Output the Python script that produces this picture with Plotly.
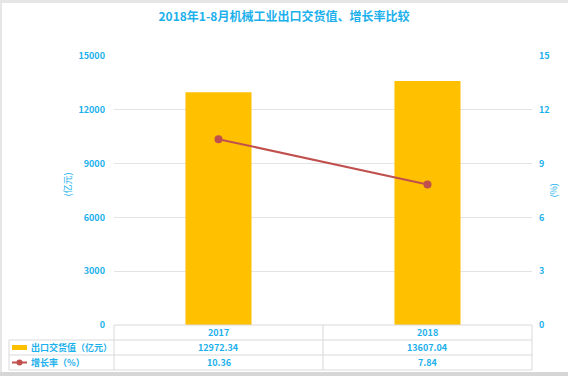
import plotly.graph_objects as go

categories = ["2017", "2018"]
export_values = [12972.34, 13607.04]
growth_rates = [10.36, 7.84]
series_names = ["出口交货值（亿元）", "增长率（%）"]
title_text = "2018年1-8月机械工业出口交货值、增长率比较"
y1_ticks = [0, 3000, 6000, 9000, 12000, 15000]
y2_ticks = [0, 3, 6, 9, 12, 15]

W, H = 568, 376
L, R, T, B = 114, 36, 56, 51
PW = W - L - R
PH = H - T - B

BLUE = "#1CB0EC"
BAR = "#FFC000"
LINE = "#C0504D"
GRID = "#E3E3E3"
TBL = "#D9D9D9"
FONT = "Noto Sans CJK SC, Noto Sans, sans-serif"


def px_x(p):
    return (p - L) / PW


def px_y(p):
    return (H - B - p) / PH


fig = go.Figure()
fig.add_trace(go.Bar(x=categories, y=export_values, name=series_names[0],
                     marker=dict(color=BAR, line=dict(width=0)), width=0.316,
                     yaxis="y"))
fig.add_trace(go.Scatter(x=categories, y=growth_rates, name=series_names[1],
                         mode="lines+markers", yaxis="y2",
                         line=dict(color=LINE, width=2),
                         marker=dict(color=LINE, size=8)))

shapes = []
annotations = []

# outer grey frame
shapes.append(dict(type="rect", xref="paper", yref="paper", x0=px_x(0), x1=px_x(W),
                   y0=px_y(0), y1=px_y(3), fillcolor="#E6E6E6", line=dict(width=0), layer="below"))
shapes.append(dict(type="rect", xref="paper", yref="paper", x0=px_x(0), x1=px_x(2),
                   y0=px_y(0), y1=px_y(H), fillcolor="#E6E6E6", line=dict(width=0), layer="below"))
shapes.append(dict(type="rect", xref="paper", yref="paper", x0=px_x(0), x1=px_x(W),
                   y0=px_y(372), y1=px_y(H), fillcolor="#D6D6D6", line=dict(width=0), layer="below"))

# table lines
rows_px = [325, 340, 355, 370]
for i, ry in enumerate(rows_px):
    x0 = px_x(9) if i >= 1 else 0
    shapes.append(dict(type="line", xref="paper", yref="paper", x0=x0, x1=1,
                       y0=px_y(ry), y1=px_y(ry), line=dict(color=TBL, width=1)))
for vx in [0, 0.5, 1]:
    shapes.append(dict(type="line", xref="paper", yref="paper", x0=vx, x1=vx,
                       y0=px_y(325), y1=px_y(370), line=dict(color=TBL, width=1)))
shapes.append(dict(type="line", xref="paper", yref="paper", x0=px_x(9), x1=px_x(9),
                   y0=px_y(340), y1=px_y(370), line=dict(color=TBL, width=1)))

# legend keys
shapes.append(dict(type="rect", xref="paper", yref="paper", x0=px_x(12), x1=px_x(27),
                   y0=px_y(350), y1=px_y(345), fillcolor=BAR, line=dict(width=0)))
shapes.append(dict(type="line", xref="paper", yref="paper", x0=px_x(12), x1=px_x(27),
                   y0=px_y(362.5), y1=px_y(362.5), line=dict(color=LINE, width=2)))
shapes.append(dict(type="circle", xref="paper", yref="paper", x0=px_x(16.5), x1=px_x(22.5),
                   y0=px_y(365.5), y1=px_y(359.5), fillcolor=LINE, line=dict(width=0)))

tf = dict(family=FONT, size=9, color=BLUE)
for name, ry in zip(series_names, [347.5, 362.5]):
    annotations.append(dict(text="<b>" + name + "</b>", xref="paper", yref="paper",
                            x=px_x(29), y=px_y(ry), xanchor="left", yanchor="middle",
                            showarrow=False, font=dict(family=FONT, size=9, color=BLUE)))
for i, (c, v, g) in enumerate(zip(categories, export_values, growth_rates)):
    annotations.append(dict(text="<b>" + c + "</b>", xref="x", yref="paper", x=i, y=px_y(332.5),
                            showarrow=False, font=tf, yanchor="middle"))
    annotations.append(dict(text="<b>%.2f</b>" % v, xref="x", yref="paper", x=i, y=px_y(347.5),
                            showarrow=False, font=tf, yanchor="middle"))
    annotations.append(dict(text="<b>%.2f</b>" % g, xref="x", yref="paper", x=i, y=px_y(362.5),
                            showarrow=False, font=tf, yanchor="middle"))

# axis titles
annotations.append(dict(text="(亿元)", xref="paper", yref="paper", x=px_x(58), y=px_y(185),
                        textangle=-90, showarrow=False, font=dict(family=FONT, size=9, color=BLUE)))
annotations.append(dict(text="(%)", xref="paper", yref="paper", x=px_x(561), y=px_y(191),
                        textangle=-90, showarrow=False, font=dict(family=FONT, size=9, color=BLUE)))

tickfont = dict(family=FONT, size=9, color=BLUE, weight="bold")

fig.update_layout(
    width=W, height=H,
    margin=dict(l=L, r=R, t=T, b=B, autoexpand=False),
    paper_bgcolor="white", plot_bgcolor="white",
    showlegend=False,
    title=dict(text="<b>" + title_text + "</b>", x=0.5, xref="container", xanchor="center",
               y=1 - 17 / H, yref="container", yanchor="middle",
               font=dict(family=FONT, size=12, color=BLUE)),
    xaxis=dict(type="category", showticklabels=False, showgrid=False, zeroline=False,
               showline=False, ticks="", range=[-0.5, 1.5]),
    yaxis=dict(range=[0, 15000], tickvals=y1_ticks, ticktext=[str(t) for t in y1_ticks],
               showgrid=True, gridcolor=GRID,
               gridwidth=1, zeroline=False, showline=False, ticks="",
               ticklabelstandoff=8, tickfont=tickfont),
    yaxis2=dict(range=[0, 15], tickvals=y2_ticks, ticktext=[str(t) for t in y2_ticks],
                overlaying="y", side="right",
                showgrid=False, zeroline=False, showline=False, ticks="",
                ticklabelstandoff=6, tickfont=tickfont),
    shapes=shapes,
    annotations=annotations,
    font=dict(family=FONT),
)

fig.write_html("out.html", config={"displayModeBar": False},
               post_script="document.body.style.margin='0';document.body.style.overflow='hidden';")
